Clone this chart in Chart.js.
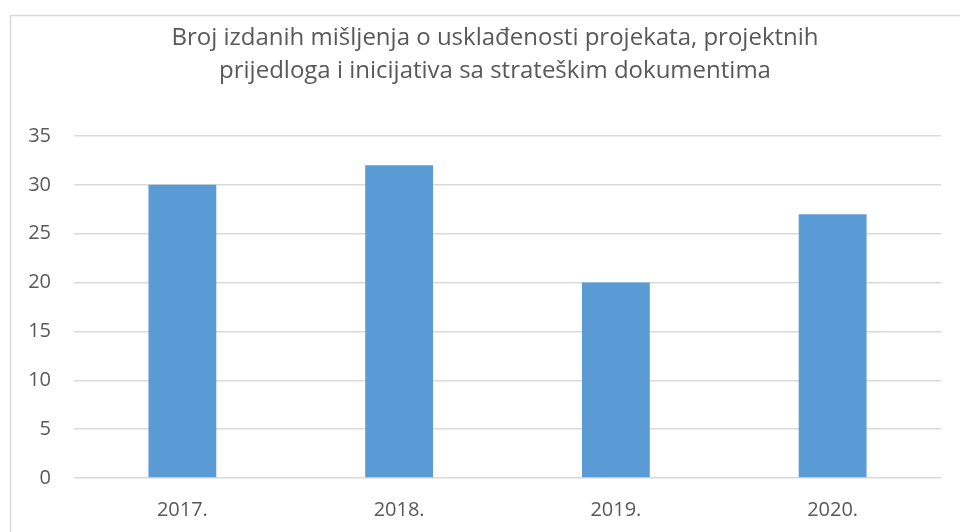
<!DOCTYPE html>
<html>
<head>
<meta charset="utf-8">
<script src="https://cdn.jsdelivr.net/npm/chart.js@4.4.0/dist/chart.umd.min.js"></script>
<style>
    body { margin: 0; background: #fff; overflow: hidden; }
    #wrap { position: relative; width: 960px; height: 532px; overflow: hidden; }
</style>
</head>
<body>
<div id="wrap"><canvas id="grafico" width="990" height="532"></canvas></div>
<script>
// podaci
const godine = ['2017.', '2018.', '2019.', '2020.'];
const brojMisljenja = [30, 32, 20, 27];
const naslov = ['Broj izdanih mišljenja o usklađenosti projekata, projektnih', 'prijedloga i inicijativa sa strateškim dokumentima'];

const sivaTekst = '#595959';
const sivaLinija = '#d9d9d9';
const font = 'Open Sans';

// okvir oko grafika
const okvir = {
    id: 'okvir',
    beforeDraw(chart) {
        let ctx = chart.ctx;
        ctx.save();
        ctx.strokeStyle = sivaLinija;
        ctx.lineWidth = 1.5;
        ctx.strokeRect(10.5, 15.5, 1000, 600);
        ctx.restore();
    }
};

let config = {
    type: 'bar',
    data: {
        labels: godine,
        datasets: [{
            data: brojMisljenja,
            backgroundColor: '#5b9bd5',
            categoryPercentage: 1,
            barPercentage: 0.313
        }]
    },
    options: {
        responsive: false,
        animation: false,
        layout: {
            padding: { left: 0, right: 0, top: 0, bottom: 12 }
        },
        plugins: {
            legend: { display: false },
            tooltip: { enabled: false },
            title: {
                display: true,
                text: naslov,
                color: sivaTekst,
                font: { family: font, size: 24, weight: 'normal', lineHeight: 1.375 },
                padding: { top: 22, bottom: 48 }
            }
        },
        scales: {
            x: {
                afterFit: (scale) => { scale.height = 42; },
                grid: { display: false, drawTicks: false },
                border: { display: false },
                ticks: {
                    color: sivaTekst,
                    font: { family: font, size: 20 },
                    padding: 20
                }
            },
            y: {
                min: 0,
                max: 35,
                afterFit: (scale) => { scale.width = 74; },
                grid: { color: sivaLinija, lineWidth: 1.5, drawTicks: false },
                border: { display: false },
                ticks: {
                    stepSize: 5,
                    color: sivaTekst,
                    font: { family: font, size: 20 },
                    padding: 23
                }
            },
            // prazan prostor desno od grafika
            desno: {
                position: 'right',
                afterFit: (scale) => { scale.width = 49; },
                grid: { display: false, drawTicks: false },
                border: { display: false },
                ticks: { display: false }
            }
        }
    },
    plugins: [okvir]
};

let grafik = new Chart(document.getElementById('grafico'), config);
</script>
</body>
</html>
